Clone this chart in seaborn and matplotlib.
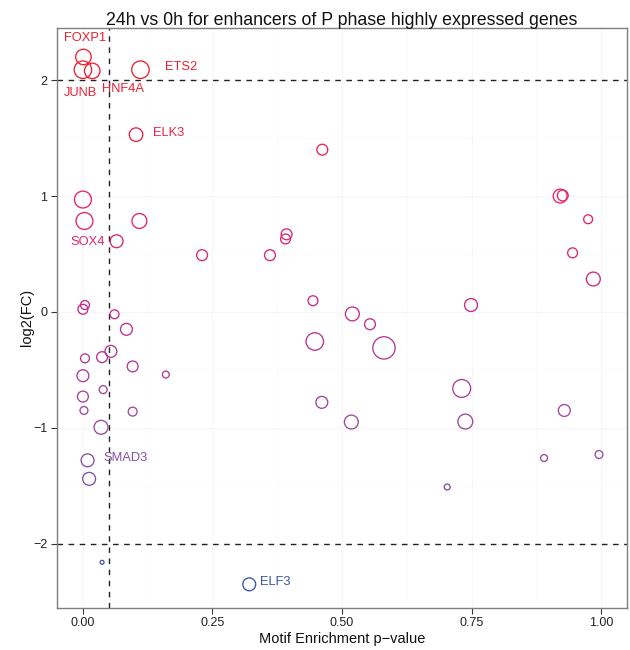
import numpy as np
import pandas as pd
import matplotlib
matplotlib.use("Agg")
import matplotlib.pyplot as plt
from matplotlib.colors import LinearSegmentedColormap, Normalize
import seaborn as sns

# ---------------- data ----------------
pvalue = [0.001, 0.000, 0.018, 0.111, 0.1025, 0.000, 0.003, 0.109, 0.065, 0.230,
          0.361, 0.393, 0.391, 0.462, 0.004, 0.000, 0.061, 0.084, 0.054, 0.004,
          0.037, 0.096, 0.000, 0.160, 0.039, 0.000, 0.002, 0.096, 0.035, 0.009,
          0.012, 0.037, 0.321, 0.444, 0.520, 0.554, 0.4475, 0.581, 0.749, 0.461,
          0.518, 0.731, 0.738, 0.703, 0.921, 0.926, 0.975, 0.945, 0.985, 0.929,
          0.890, 0.996]
log2fc = [2.20, 2.09, 2.08, 2.09, 1.53, 0.97, 0.785, 0.785, 0.61, 0.49,
          0.49, 0.67, 0.63, 1.40, 0.06, 0.023, -0.02, -0.15, -0.34, -0.40,
          -0.39, -0.47, -0.55, -0.54, -0.67, -0.73, -0.85, -0.86, -0.995, -1.28,
          -1.44, -2.16, -2.35, 0.097, -0.017, -0.106, -0.255, -0.31, 0.06, -0.78,
          -0.95, -0.66, -0.946, -1.51, 1.00, 1.005, 0.80, 0.51, 0.284, -0.85,
          -1.26, -1.23]
motif_size = [8.3, 9.3, 8.3, 9.3, 7.3, 9.0, 9.0, 8.0, 7.0, 6.0,
              6.0, 6.0, 5.5, 6.0, 5.0, 5.5, 5.0, 6.5, 6.5, 5.0,
              6.0, 6.0, 6.5, 4.0, 4.5, 6.0, 4.5, 5.0, 7.5, 7.0,
              7.0, 2.5, 7.0, 5.5, 7.5, 6.0, 9.3, 11.7, 7.0, 6.5,
              7.5, 9.5, 8.0, 3.5, 7.5, 6.0, 5.0, 5.5, 7.5, 6.5,
              4.0, 4.5]
gene = ["FOXP1", "JUNB", "HNF4A", "ETS2", "ELK3", "", "", "", "SOX4", "",
        "", "", "", "", "", "", "", "", "", "",
        "", "", "", "", "", "", "", "", "", "SMAD3",
        "", "", "ELF3", "", "", "", "", "", "", "",
        "", "", "", "", "", "", "", "", "", "",
        "", ""]
# label offsets (pixels) for labelled genes
label_dx = {"FOXP1": 2, "JUNB": -2, "HNF4A": 31, "ETS2": 41, "ELK3": 33,
            "SOX4": -29, "SMAD3": 38, "ELF3": 26}
label_dy = {"FOXP1": 19, "JUNB": -23, "HNF4A": -18, "ETS2": 3, "ELK3": 2,
            "SOX4": -1, "SMAD3": 2, "ELF3": 2}

x_ticks = [0.0, 0.25, 0.5, 0.75, 1.0]
x_ticklabels = ["0.00", "0.25", "0.50", "0.75", "1.00"]
y_ticks = [-2, -1, 0, 1, 2]
p_cut = 0.05
fc_cut = [2, -2]

df = pd.DataFrame({"pvalue": pvalue, "log2fc": log2fc, "msize": motif_size, "gene": gene})
# marker area in pt^2 from radius in px (dpi 100)
df["area"] = (2 * df["msize"] * 0.72 - 0.8) ** 2

# ---------------- style ----------------
sns.set_theme(style="white")
plt.rcParams["font.family"] = ["Liberation Sans", "DejaVu Sans"]

cmap = LinearSegmentedColormap.from_list(
    "fc", [(0.0, "#3B55A6"), (0.19, "#7D52A2"), (0.30, "#9A4A9E"),
           (0.52, "#C52A8C"), (0.74, "#E8235E"), (1.0, "#F0202E")])
norm = Normalize(vmin=-2.35, vmax=2.20)

fig = plt.figure(figsize=(6.3, 6.5), dpi=100)
ax = fig.add_axes([57 / 630, 1 - 607.5 / 650, 570 / 630, 579.5 / 650])

amin, amax = df["area"].min(), df["area"].max()
sns.scatterplot(data=df, x="pvalue", y="log2fc", hue="log2fc", palette=cmap,
                hue_norm=norm, size="area", sizes=(amin, amax),
                size_norm=(amin, amax), legend=False, ax=ax, zorder=3)
pts = ax.collections[0]
cols = pts.get_facecolors()
pts.set_edgecolors(cols)
pts.set_facecolors("none")
pts.set_linewidths(0.95)

# reference lines
ax.axvline(p_cut, color="#222222", ls=(0, (4, 4)), lw=1.0, zorder=2)
for h in fc_cut:
    ax.axhline(h, color="#222222", ls=(0, (4, 4)), lw=1.0, zorder=2)

# labels
for _, r in df[df["gene"] != ""].iterrows():
    ax.annotate(r["gene"], (r["pvalue"], r["log2fc"]),
                xytext=(label_dx[r["gene"]], label_dy[r["gene"]]),
                textcoords="offset pixels", ha="center", va="center",
                color=cmap(norm(r["log2fc"])), fontsize=9.3, zorder=4)

ax.set_xlim(-0.05, 1.05)
ax.set_ylim(-2.55, 2.45)
ax.set_xticks(x_ticks)
ax.set_xticklabels(x_ticklabels)
ax.set_yticks(y_ticks)
ax.set_xticks([0.125, 0.375, 0.625, 0.875], minor=True)
ax.set_yticks([-1.5, -0.5, 0.5, 1.5], minor=True)
ax.grid(True, which="major", color="#F6F6F6", lw=0.8, zorder=0)
ax.grid(True, which="minor", color="#FAFAFA", lw=0.5, zorder=0)
ax.set_axisbelow(True)
for s in ax.spines.values():
    s.set_color("#7F7F7F")
    s.set_linewidth(1.0)
ax.tick_params(axis="both", which="major", direction="out", length=4, width=0.8,
               color="#333333", labelsize=9, labelcolor="#222222", pad=3,
               bottom=True, left=True)
ax.tick_params(axis="both", which="minor", length=0)
ax.set_xlabel("Motif Enrichment p\u2212value", fontsize=10.5, color="#111111", labelpad=2)
ax.set_ylabel("log2(FC)", fontsize=10.5, color="#111111", labelpad=-1)
ax.set_title("24h vs 0h for enhancers of P phase highly expressed genes",
             fontsize=12.8, color="#111111", pad=2.5)

fig.savefig("out.png", dpi=100)
